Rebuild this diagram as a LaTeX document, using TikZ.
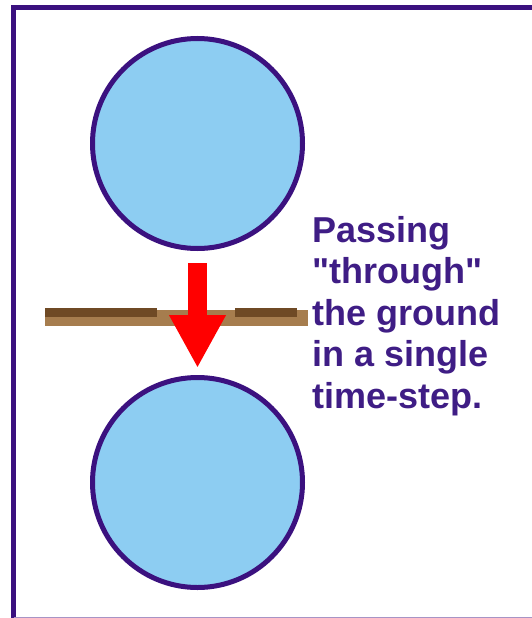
\documentclass[tikz,border=0pt]{standalone}
\usepackage{fontspec}
\setmainfont{Liberation Sans}
\usetikzlibrary{arrows.meta}
\definecolor{framepurple}{RGB}{59,17,127}
\definecolor{textpurple}{RGB}{63,29,133}
\definecolor{ballblue}{RGB}{141,205,242}
\definecolor{groundtan}{RGB}{166,125,78}
\definecolor{grounddark}{RGB}{111,74,37}
\tikzset{
  ball/.style={circle, draw=framepurple, line width=5pt, fill=ballblue, minimum size=210pt, inner sep=0pt},
  caption/.style={anchor=base west, inner sep=0pt, align=left, text=textpurple, font=\fontsize{36pt}{41.5pt}\selectfont\bfseries},
}
\begin{document}
\begin{tikzpicture}[x=1pt,y=1pt,yscale=-1,xscale=1]
		\useasboundingbox (0,0) rectangle (532,618);
		
		%Frame
		\draw [framepurple, line width=5pt] (13.5,618) -- (13.5,7.5) -- (532,7.5) ;
		\draw [framepurple!45, line width=1.5pt] (13.5,617.5) -- (532,617.5) ;
		
		%Balls
		\node [ball] (upper) at (197.5,143.5) {};
		\node [ball] (lower) at (197.5,482.5) {};
		
		%Ground
		\draw [groundtan, line width=16pt] (45,318) -- (308,318) ;
		\draw [grounddark, line width=9pt] (45,312.5) -- (157,312.5) (235,312.5) -- (297,312.5) ;
		
		%Arrow
		\draw [red, line width=19pt, -{Triangle[width=53pt,length=53pt]}, shorten <=12pt, shorten >=7pt] (upper.south) -- (lower.north) ;
		
		% Text Node (anchored at the baseline of its last line)
		\node [caption] (note) at (312,408) {Passing\\\textquotedbl through\textquotedbl\\the ground\\in a single\\time-step.};
\end{tikzpicture}
\end{document}
